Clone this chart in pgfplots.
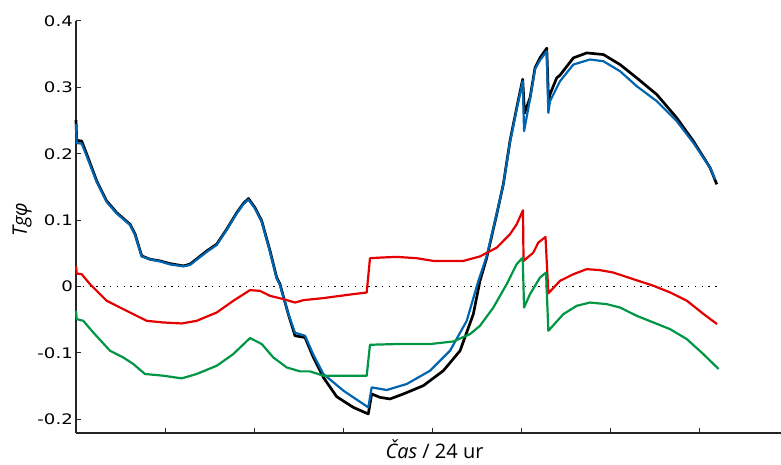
\documentclass[border=0pt]{standalone}
\usepackage{pgfplots}
\pgfplotsset{compat=1.18}
\usepackage{fontspec}
\setmainfont{DejaVu Sans}
\newfontfamily\tickfont[FakeStretch=1.25]{DejaVu Sans}
\newfontfamily\labfont{Open Sans}
\definecolor{cblue}{RGB}{0,101,176}
\definecolor{cred}{RGB}{228,0,0}
\definecolor{cgreen}{RGB}{0,150,68}

\pgfplotstableread{
x y
0 0.2507
0.008 0.2202
0.064 0.2191
0.120 0.1996
0.233 0.1590
0.345 0.1289
0.457 0.1113
0.607 0.0938
0.663 0.0793
0.738 0.0462
0.831 0.0412
0.944 0.0386
1.056 0.0346
1.206 0.0311
1.281 0.0337
1.469 0.0537
1.581 0.0638
1.693 0.0863
1.806 0.1113
1.880 0.1250
1.937 0.1326
2.011 0.1188
2.087 0.0988
2.180 0.0537
2.255 0.0135
2.292 0.0036
2.385 -0.0415
2.461 -0.0741
2.573 -0.0767
2.667 -0.1068
2.779 -0.1368
2.929 -0.1659
3.116 -0.1820
3.284 -0.1919
3.322 -0.1618
3.416 -0.1669
3.528 -0.1693
3.678 -0.1618
3.902 -0.1493
4.127 -0.1268
4.315 -0.0967
4.464 -0.0415
4.539 0.0086
4.615 0.0436
4.727 0.1089
4.801 0.1540
4.876 0.2191
4.951 0.2692
5.019 0.3123
5.039 0.2612
5.101 0.2842
5.157 0.3293
5.213 0.3444
5.289 0.3590
5.309 0.2793
5.326 0.2898
5.401 0.3143
5.438 0.3184
5.588 0.3444
5.738 0.3519
5.925 0.3495
6.112 0.3344
6.300 0.3143
6.525 0.2893
6.749 0.2541
6.936 0.2191
7.124 0.1790
7.199 0.1540
}\black

\pgfplotstableread{
x y
0 0.2447
0.008 0.2161
0.064 0.2153
0.120 0.1965
0.233 0.1575
0.345 0.1274
0.457 0.1101
0.607 0.0928
0.663 0.0777
0.738 0.0454
0.831 0.0409
0.944 0.0379
1.056 0.0334
1.206 0.0304
1.281 0.0326
1.469 0.0522
1.581 0.0627
1.693 0.0853
1.806 0.1101
1.880 0.1240
1.937 0.1311
2.011 0.1176
2.087 0.0973
2.180 0.0522
2.255 0.0120
2.292 0.0021
2.385 -0.0411
2.461 -0.0696
2.573 -0.0741
2.667 -0.1027
2.779 -0.1317
3.004 -0.1568
3.284 -0.1820
3.322 -0.1519
3.491 -0.1558
3.716 -0.1468
3.978 -0.1268
4.202 -0.0967
4.390 -0.0516
4.521 0.0086
4.615 0.0462
4.727 0.1101
4.801 0.1537
4.876 0.2176
4.951 0.2672
5.019 0.3093
5.034 0.2341
5.101 0.2823
5.157 0.3274
5.213 0.3410
5.289 0.3544
5.307 0.2617
5.326 0.2792
5.438 0.3093
5.588 0.3344
5.775 0.3420
5.925 0.3394
6.112 0.3244
6.300 0.3018
6.525 0.2793
6.749 0.2492
6.936 0.2165
7.124 0.1790
7.180 0.1615
}\blue

\pgfplotstableread{
x y
0 0.0311
0.008 0.0195
0.064 0.0186
0.157 0.0036
0.345 -0.0215
0.607 -0.0391
0.794 -0.0516
0.981 -0.0541
1.188 -0.0556
1.356 -0.0516
1.581 -0.0391
1.767 -0.0215
1.955 -0.0054
2.067 -0.0065
2.180 -0.0140
2.330 -0.0189
2.461 -0.0241
2.554 -0.0205
2.779 -0.0174
3.116 -0.0114
3.266 -0.0090
3.303 0.0427
3.416 0.0436
3.603 0.0447
3.828 0.0427
4.015 0.0386
4.352 0.0386
4.539 0.0454
4.727 0.0586
4.876 0.0788
4.951 0.0938
5.022 0.1149
5.028 0.0386
5.138 0.0511
5.194 0.0662
5.275 0.0747
5.307 -0.0102
5.438 0.0086
5.588 0.0186
5.738 0.0262
5.888 0.0247
6.037 0.0211
6.262 0.0111
6.490 0.0011
6.677 -0.0090
6.865 -0.0215
7.052 -0.0415
7.202 -0.0565
}\red

\pgfplotstableread{
x y
0 -0.0365
0.008 -0.0490
0.082 -0.0516
0.194 -0.0692
0.382 -0.0967
0.531 -0.1068
0.644 -0.1167
0.775 -0.1317
0.981 -0.1343
1.188 -0.1383
1.356 -0.1317
1.581 -0.1193
1.767 -0.1017
1.955 -0.0776
2.087 -0.0866
2.217 -0.1068
2.367 -0.1218
2.517 -0.1278
2.629 -0.1278
2.779 -0.1343
3.266 -0.1343
3.303 -0.0877
3.603 -0.0866
3.978 -0.0866
4.240 -0.0827
4.427 -0.0716
4.539 -0.0591
4.689 -0.0316
4.839 0.0036
4.951 0.0337
5.019 0.0436
5.034 -0.0316
5.101 -0.0114
5.213 0.0135
5.281 0.0211
5.307 -0.0666
5.476 -0.0415
5.626 -0.0290
5.775 -0.0241
5.963 -0.0265
6.112 -0.0316
6.300 -0.0441
6.487 -0.0541
6.674 -0.0641
6.862 -0.0791
7.048 -0.1017
7.220 -0.1242
}\green

\begin{document}
\begin{tikzpicture}
\useasboundingbox (-76pt,-31pt) rectangle (705pt,433pt);
\begin{axis}[
  at={(0,0)}, anchor=south west,
  scale only axis,
  width=705pt, height=412pt,
  xmin=0, xmax=7.921,
  ymin=-0.2206, ymax=0.4,
  axis x line=bottom, axis y line=left,
  axis line style={-, line width=1.3pt, black!85},
  tick align=inside,
  major tick length=5pt,
  tick style={line width=1pt, black!85},
  xtick={1,2,3,4,5,6,7},
  xticklabels={},
  ytick={-0.2,-0.1,0,0.1,0.2,0.3,0.4},
  yticklabels={-0.2,-0.1,0,0.1,0.2,0.3,0.4},
  yticklabel style={font=\tickfont\fontsize{14.5}{16}\selectfont, inner sep=3pt},
  xlabel={\labfont\fontsize{20}{22}\selectfont\itshape Čas\upshape{} / 24 ur},
  xlabel style={at={(axis description cs:0.5,0)}, anchor=base, yshift=-25pt, xshift=6pt},
  ylabel={\labfont\fontsize{20}{22}\selectfont\itshape Tgφ},
  ylabel style={at={([xshift=-49pt]axis description cs:0,0.517)}, anchor=base},
  clip=false,
]
\addplot[black, line width=1.3pt, dash pattern=on 1.3pt off 5.5pt] coordinates {(0,0) (7.2,0)};
\addplot[black, line width=2.7pt, line join=round] table {\black};
\addplot[cblue, line width=2.2pt, line join=round] table {\blue};
\addplot[cred, line width=2.2pt, line join=round] table {\red};
\addplot[cgreen, line width=2.2pt, line join=round] table {\green};
\end{axis}
\end{tikzpicture}
\end{document}
